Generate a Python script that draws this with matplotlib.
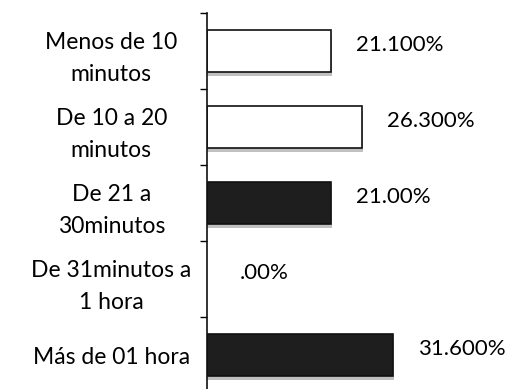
import matplotlib
matplotlib.use("Agg")
import matplotlib.pyplot as plt
import numpy as np

categories = ["Menos de 10\nminutos", "De 10 a 20\nminutos", "De 21 a\n30minutos",
              "De 31minutos a\n1 hora", "Más de 01 hora"]
values = [21.1, 26.3, 21.0, 0.0, 31.6]
value_labels = ["21.100%", "26.300%", "21.00%", ".00%", "31.600%"]
dark = [False, False, True, False, True]

plt.rcParams['font.family'] = ['Lato', 'DejaVu Sans']

fig = plt.figure(figsize=(5.10, 3.89), dpi=100)
ax = fig.add_axes([0.406, -0.0103, 0.594, 0.9769])

y = np.arange(len(categories))
bar_h = 0.55

# soft grey shadow under each bar
for yi, v in zip(y, values):
    if v > 0:
        ax.barh(yi + 0.06, v + 0.2, height=bar_h, color="#b5b5b5", edgecolor="none",
                zorder=1, alpha=0.85)

for yi, v, d in zip(y, values, dark):
    if v > 0:
        ax.barh(yi, v, height=bar_h, color="#1e1e1e" if d else "white",
                edgecolor="#111111", linewidth=1.2, zorder=2)

for yi, v, lab in zip(y, values, value_labels):
    ax.text(v + 4.3 if v > 0 else 5.6, yi - 0.08, lab, fontsize=16,
            va="center", ha="left", color="#000000")

ax.set_ylim(len(categories) - 0.5, -0.5)
ax.set_xlim(0, 51.5)
ax.set_yticks(y)
ax.set_yticklabels(categories, fontsize=16.5, ha="center", linespacing=1.65,
                   color="#000000")
ax.tick_params(axis="y", which="major", length=0, pad=69)
ax.set_yticks(np.arange(-0.5, len(categories), 1.0), minor=True)
ax.tick_params(axis="y", which="minor", length=5, width=1.0, direction="out")
ax.set_xticks([])
for s in ["top", "right", "bottom"]:
    ax.spines[s].set_visible(False)
ax.spines["left"].set_linewidth(1.2)
ax.spines["left"].set_color("#111111")

fig.savefig("out.png", dpi=100)
